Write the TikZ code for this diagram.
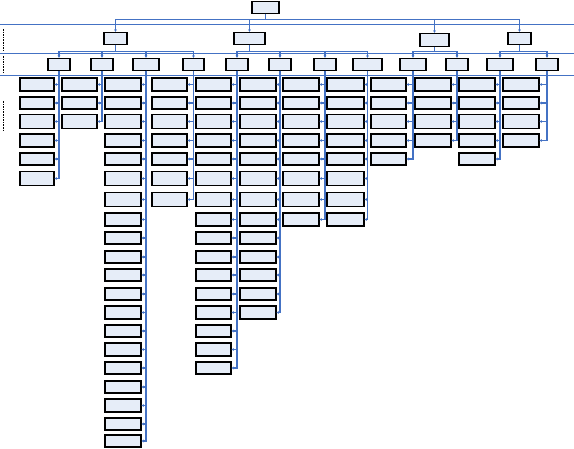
\documentclass[tikz,border=0pt]{standalone}
\usepackage{tikz}
\usetikzlibrary{arrows.meta}
\definecolor{lineblue}{HTML}{4472C4}
\definecolor{boxfill}{HTML}{E6EDF8}
\tikzset{
         unit/.style={draw=black, fill=boxfill, line width=1.05pt, inner sep=0pt},
         leaf/.style={draw=black, fill=boxfill, line width=1.05pt, inner sep=0pt},
         link/.style={-{Stealth[length=2.4pt, width=2.8pt]}, draw=lineblue, line width=1.1pt},
         band/.style={draw=lineblue, line width=1.1pt},
         tag/.style={densely dotted, line width=1.6pt},
}
% Zeilen der Blaetter (Mitte, Hoehe)
\def\rowy{{84.5,103,121.5,140.5,159,178.5,199.5,219.5,238,257,275,294,312.5,331,349.5,368,387,405.5,424,441}}
\def\rowh{{13,12,14,13,12,14,14,13,12,12,12,12,13,12,13,12,12,13,12,12}}

\begin{document}
\begin{tikzpicture}[x=1pt, y=-1pt]
    \useasboundingbox (0,0) rectangle (574,449);

    % Trennlinien und Ebenen
    \draw[band] (0,24.3) -- (574,24.3);
    \draw[band] (0,53.3) -- (574,53.3);
    \draw[band] (0,75.3) -- (574,75.3);
    \draw[tag] (3.5,29) -- (3.5,52);
    \draw[tag] (3.5,56) -- (3.5,73);
    \draw[tag] (3.5,101) -- (3.5,132);
    \coordinate (bus1) at (0,19.3);
    \coordinate (bus2) at (0,51.3);

    % Wurzel
    \node[unit, minimum width=27, minimum height=12] (root) at (265.5,7.3) {};

    % Ebene 1
    \node[unit, minimum width=23, minimum height=12] (A) at (115.5,38.3) {};
    \node[unit, minimum width=31, minimum height=12] (B) at (249.5,38.3) {};
    \node[unit, minimum width=29, minimum height=13] (C) at (434.5,39.8) {};
    \node[unit, minimum width=23, minimum height=12] (D) at (519.5,38.3) {};
    \foreach \q in {A,B,C,D}
        \draw[link] (root.south) -- (root.south |- bus1) -| (\q.north);

    % Ebene 2
    \node[unit, minimum width=22, minimum height=12] (a1) at (59,64.3) {};
    \node[unit, minimum width=22, minimum height=12] (a2) at (102,64.3) {};
    \node[unit, minimum width=26, minimum height=12] (a3) at (146,64.3) {};
    \node[unit, minimum width=21, minimum height=12] (a4) at (193.5,64.3) {};
    \node[unit, minimum width=22, minimum height=12] (b1) at (237,64.3) {};
    \node[unit, minimum width=22, minimum height=12] (b2) at (280,64.3) {};
    \node[unit, minimum width=22, minimum height=12] (b3) at (325,64.3) {};
    \node[unit, minimum width=29, minimum height=12] (b4) at (367.5,64.3) {};
    \node[unit, minimum width=26, minimum height=12] (c1) at (413,64.3) {};
    \node[unit, minimum width=22, minimum height=12] (c2) at (457,64.3) {};
    \node[unit, minimum width=26, minimum height=12] (d1) at (500,64.3) {};
    \node[unit, minimum width=22, minimum height=12] (d2) at (547,64.3) {};
    \foreach \q/\k in {A/a1,A/a2,A/a3,A/a4,B/b1,B/b2,B/b3,B/b4,C/c1,C/c2,D/d1,D/d2}
        \draw[link] (\q.south) -- (\q.south |- bus2) -| (\k.north);

    % Ebene 3 (Blaetter links der Linie)
    \foreach \p/\l/\r/\n in {a1/20/54/6, a2/62/97/3, a3/105/141/20, a4/152/187/7,
                             b1/196/231/16, b2/240/276/13, b3/283/319/8, b4/327/364/8,
                             c1/371/406/5, c2/415/451/4, d1/459/495/5, d2/503/539/4} {
        \foreach \i in {1,...,\n} {
            \pgfmathsetmacro\yc{\rowy[\i-1]}
            \pgfmathsetmacro\hh{\rowh[\i-1]}
            \node[leaf, minimum width={\r-\l}, minimum height=\hh] (\p-\i) at ({(\l+\r)/2},\yc) {};
            \draw[link] (\p.south) |- (\p-\i.east);
        }
    }
\end{tikzpicture}
\end{document}
